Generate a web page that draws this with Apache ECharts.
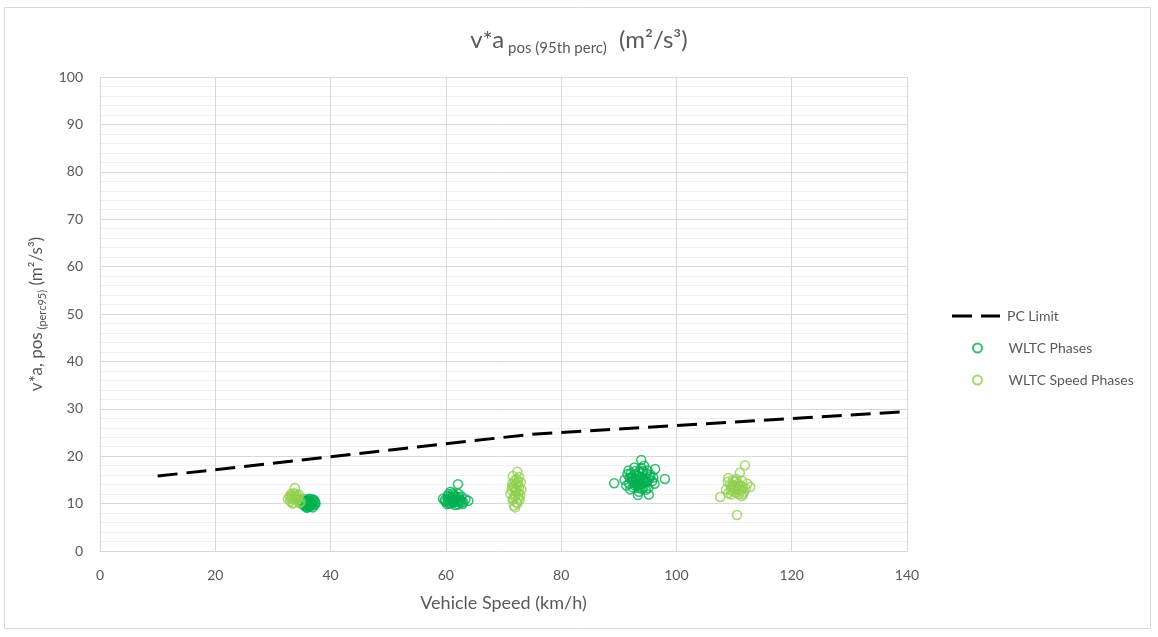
<!DOCTYPE html>
<html>
<head>
<meta charset="utf-8">
<script src="https://cdn.jsdelivr.net/npm/echarts@6/dist/echarts.min.js"></script>
<style>
html,body{margin:0;padding:0;background:#fff;}
#c{width:1158px;height:637px;}
</style>
</head>
<body>
<div id="c"></div>
<script>
// ---- data ----
const xTicks = [0, 20, 40, 60, 80, 100, 120, 140];
const yTicks = [0, 10, 20, 30, 40, 50, 60, 70, 80, 90, 100];

// PC limit (speed km/h, v*a pos 95 m2/s3)
const pcLimit = [[10, 15.8], [74.6, 24.6], [140, 29.4]];

// WLTC Phases (dark green)
const wltcPhases = [
  // ~36 km/h
  [35.2,10.3],[35.6,9.8],[36.0,10.6],[36.4,9.4],[36.8,10.1],[37.2,9.7],[35.9,9.1],[36.3,11.0],
  [36.7,10.9],[35.4,10.9],[37.0,10.5],[36.1,9.9],[35.8,10.2],[36.5,10.4],[37.4,10.0],[36.9,9.2],
  [35.5,9.5],[36.2,10.7],[36.6,9.6],[35.1,9.9],[36.0,9.3],[37.1,10.8],[36.4,10.2],[35.7,10.6],
  [36.2,9.6],[36.8,9.9],[35.9,10.4],[36.5,10.0],[37.3,10.4],[35.6,10.1],
  // ~61 km/h
  [59.5,11.0],[60.0,10.4],[60.3,11.6],[60.6,10.0],[60.9,11.2],[61.2,12.2],[61.5,10.6],[61.8,11.4],
  [62.1,9.8],[62.4,10.8],[62.7,11.5],[63.0,10.3],[63.4,10.9],[63.9,10.6],[60.8,12.5],[61.6,9.7],
  [62.2,12.0],[60.2,9.9],[61.0,10.9],[62.9,9.9],[62.1,14.1],[61.4,11.8],[59.8,10.7],[60.5,12.0],
  [61.3,10.2],[62.5,10.2],[61.9,10.9],[60.7,11.4],[61.1,10.5],[61.7,11.0],[62.3,11.3],[60.4,10.8],
  [61.5,11.5],[62.0,10.4],[60.9,10.1],[62.6,10.7],
  // ~93 km/h
  [89.2,14.3],[98.0,15.2],[93.9,19.2],[93.3,11.8],[95.2,11.9],[96.3,17.3],[91.0,15.0],[91.5,16.2],
  [91.8,14.2],[92.2,15.6],[92.5,13.4],[92.8,16.8],[93.0,14.8],[93.3,15.9],[93.6,13.9],[93.9,17.5],
  [94.2,15.2],[94.5,14.4],[94.8,16.3],[95.1,13.3],[95.4,15.6],[95.8,14.7],[92.0,13.0],[93.5,12.5],
  [94.4,18.0],[92.7,17.6],[95.0,17.0],[96.0,15.5],[91.3,13.8],[94.0,16.5],[93.1,14.0],[92.4,14.9],
  [94.7,12.9],[91.7,17.0],[96.2,14.2],[92.9,15.3],[93.7,14.6],[94.3,13.6],[92.1,16.4],[95.5,16.1],
  [92.6,14.4],[93.2,15.1],[93.8,15.5],[94.1,14.1],[93.4,13.3],[92.3,15.3],[94.6,15.0],[93.0,16.2],
  [94.9,14.6],[92.8,13.8],[93.6,16.8],[94.2,16.9],[91.9,15.4],[93.3,14.4],[95.2,15.2],[94.0,13.1]
];

// WLTC Speed Phases (light green)
const wltcSpeedPhases = [
  // ~34 km/h
  [32.6,11.0],[33.0,10.5],[33.3,11.6],[33.6,10.2],[33.9,11.2],[34.2,10.7],[34.5,11.9],[34.8,10.4],
  [33.1,12.0],[33.8,13.3],[34.3,11.5],[32.9,11.5],[33.5,10.9],[34.6,10.1],[34.0,12.1],[33.4,10.0],
  [33.7,11.6],[34.1,11.0],[33.2,11.1],[34.4,10.9],[33.6,12.2],
  // ~72 km/h
  [71.2,12.0],[71.5,13.5],[71.7,11.0],[71.9,14.8],[72.1,12.6],[72.3,10.2],[72.5,13.9],[72.7,15.6],
  [72.9,11.8],[73.1,13.0],[71.6,15.8],[72.4,16.7],[71.8,9.6],[72.0,9.2],[72.6,12.2],[72.2,14.3],
  [71.4,12.9],[72.8,10.8],[73.0,14.5],[71.9,11.5],[72.3,15.2],[72.0,13.2],[72.6,11.2],[71.5,14.2],
  [72.2,12.8],[71.8,13.6],[72.5,14.6],[72.1,11.8],[72.7,13.4],[71.6,10.8],[72.4,10.0],
  // ~110 km/h
  [111.9,18.1],[111.0,16.5],[107.6,11.4],[110.5,7.6],[112.8,13.5],[109.0,15.4],[108.6,13.0],[109.0,12.2],
  [109.3,14.1],[109.6,13.4],[109.9,12.6],[110.2,14.6],[110.5,13.0],[110.8,12.0],[111.1,13.8],[111.4,14.8],
  [111.7,12.5],[112.0,13.2],[109.5,11.9],[110.4,15.2],[111.3,11.6],[108.9,14.6],[110.0,13.8],[111.6,12.0],
  [112.3,14.2],[110.6,13.6],[109.8,14.9],[110.1,13.2],[110.9,13.0],[109.4,12.8],[111.2,12.8],[110.3,12.3],
  [110.7,14.2],[109.7,13.9],[111.5,13.5]
];

const FONT = 'Lato';
const TXT = '#595959';

const chart = echarts.init(document.getElementById('c'), null, {renderer: 'canvas'});
chart.setOption({
  backgroundColor: '#fff',
  animation: false,
  textStyle: {fontFamily: FONT, color: TXT},
  title: {
    text: '{a|v*a}{s| pos (95th perc)}{a|  (m²/s³)}',
    left: 'center',
    top: 20,
    textStyle: {
      fontFamily: FONT,
      fontWeight: 'normal',
      rich: {
        a: {fontFamily: FONT, fontSize: 24, fontWeight: 'normal', color: TXT, lineHeight: 31, verticalAlign: 'middle'},
        s: {fontFamily: FONT, fontSize: 15, fontWeight: 'normal', color: TXT, lineHeight: 16, verticalAlign: 'bottom'}
      }
    }
  },
  graphic: [{
    type: 'rect',
    silent: true,
    shape: {x: 4.5, y: 7.5, width: 1146, height: 621},
    style: {fill: 'none', stroke: '#d9d9d9', lineWidth: 1}
  }],
  legend: [
    {
      orient: 'vertical',
      left: 952,
      top: 309,
      padding: 0,
      itemWidth: 48,
      itemHeight: 3,
      icon: 'path://M0,0H20V3H0ZM29,0H48V3H29Z',
      textStyle: {fontFamily: FONT, fontSize: 14, color: TXT, padding: [0, 0, 0, 2]},
      data: ['PC Limit']
    },
    {
      orient: 'vertical',
      left: 972,
      top: 341,
      padding: 0,
      itemWidth: 48,
      itemHeight: 9,
      itemGap: 18,
      textStyle: {fontFamily: FONT, fontSize: 14, color: TXT, padding: [0, 0, 0, 2]},
      data: ['WLTC Phases', 'WLTC Speed Phases']
    }
  ],
  grid: {left: 100, right: 251, top: 77, bottom: 86, containLabel: false},
  xAxis: {
    type: 'value',
    min: xTicks[0],
    max: xTicks[xTicks.length - 1],
    interval: 20,
    name: 'Vehicle Speed (km/h)',
    nameLocation: 'middle',
    nameGap: 43,
    nameTextStyle: {fontFamily: FONT, fontSize: 18, color: TXT},
    axisLine: {show: true, lineStyle: {color: '#d9d9d9', width: 1}},
    axisTick: {show: false},
    axisLabel: {fontFamily: FONT, fontSize: 14, color: TXT, margin: 17},
    splitLine: {show: true, lineStyle: {color: '#d9d9d9', width: 1}}
  },
  yAxis: {
    type: 'value',
    min: yTicks[0],
    max: yTicks[yTicks.length - 1],
    interval: 10,
    name: '{a|v*a, pos}{s| (perc95)}{a| (m²/s³)}',
    nameLocation: 'middle',
    nameRotate: 90,
    nameGap: 50,
    nameTextStyle: {
      fontFamily: FONT,
      rich: {
        a: {fontFamily: FONT, fontSize: 17, color: TXT, lineHeight: 22, verticalAlign: 'middle'},
        s: {fontFamily: FONT, fontSize: 11, color: TXT, lineHeight: 12, verticalAlign: 'bottom'}
      }
    },
    axisLine: {show: true, lineStyle: {color: '#d9d9d9', width: 1}},
    axisTick: {show: false},
    axisLabel: {fontFamily: FONT, fontSize: 14, color: TXT, margin: 17},
    splitLine: {show: true, lineStyle: {color: '#d9d9d9', width: 1}},
    minorTick: {show: false, splitNumber: 5},
    minorSplitLine: {show: true, lineStyle: {color: '#efefef', width: 1}}
  },
  series: [
    {
      name: 'PC Limit',
      type: 'line',
      data: pcLimit,
      symbol: 'none',
      z: 5,
      lineStyle: {color: '#000', width: 3, type: [20, 9]},
      itemStyle: {color: '#000'}
    },
    {
      name: 'WLTC Phases',
      type: 'scatter',
      data: wltcPhases,
      symbol: 'circle',
      symbolSize: 9,
      z: 3,
      itemStyle: {color: 'rgba(0,0,0,0)', borderColor: '#00B050', borderWidth: 1.5}
    },
    {
      name: 'WLTC Speed Phases',
      type: 'scatter',
      data: wltcSpeedPhases,
      symbol: 'circle',
      symbolSize: 9,
      z: 4,
      itemStyle: {color: 'rgba(0,0,0,0)', borderColor: '#92D050', borderWidth: 1.5}
    }
  ]
});
</script>
</body>
</html>
